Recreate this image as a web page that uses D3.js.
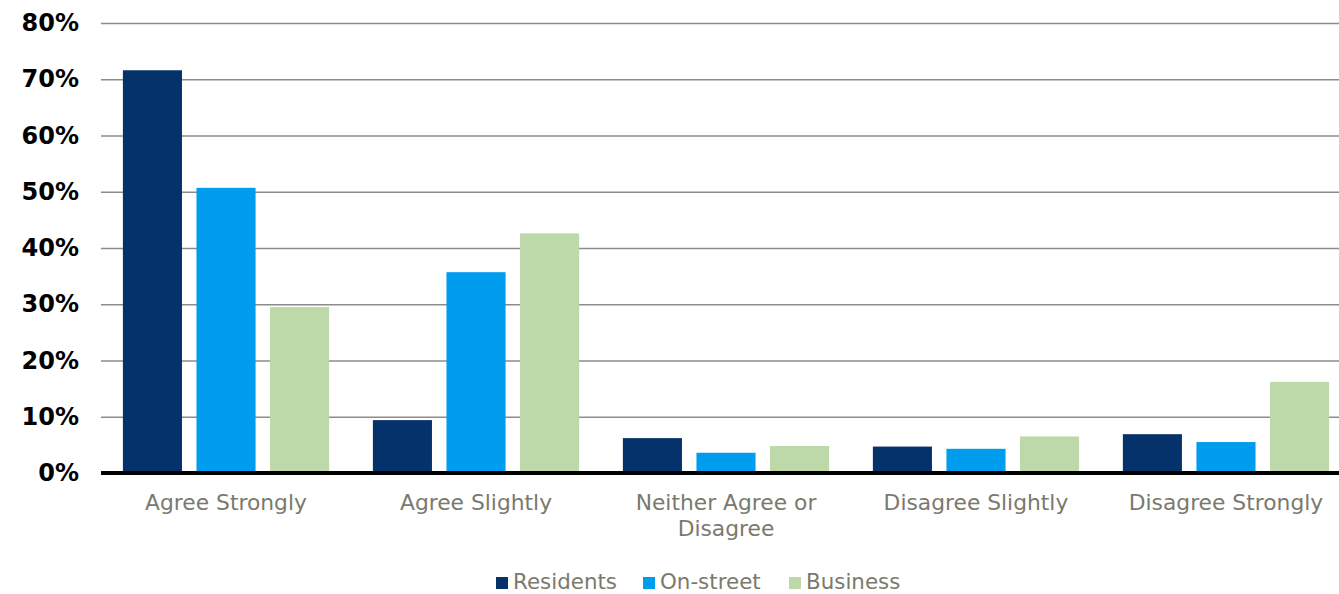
<!DOCTYPE html>
<html><head><meta charset="utf-8">
<script src="https://cdn.jsdelivr.net/npm/d3@7"></script>
<style>body{margin:0;background:#fff}svg{display:block}</style>
</head><body>
<svg id="c" width="1339" height="594"></svg>
<script>
const categories = [["Agree Strongly"],["Agree Slightly"],["Neither Agree or","Disagree"],["Disagree Slightly"],["Disagree Strongly"]];
const seriesNames = ["Residents","On-street","Business"];
const residents = [71.6, 9.4, 6.2, 4.7, 6.9];
const onStreet  = [50.7, 35.7, 3.6, 4.3, 5.5];
const business  = [29.5, 42.6, 4.8, 6.5, 16.2];
const yTicks = [0,10,20,30,40,50,60,70,80];
const colors = ["#06326c","#009ced","#bed9a9"];

(function(){
const series = [residents, onStreet, business];
const svg = d3.select("#c");
const mLeft = 101, mRight = 1351, mTop = 23, mBottom = 473;
const x0 = d3.scaleBand().domain(d3.range(categories.length)).range([mLeft, mRight]).paddingInner(0.175).paddingOuter(0.0876);
const x1 = d3.scaleBand().domain(d3.range(series.length)).range([0, x0.bandwidth()]).paddingInner(0.197).paddingOuter(0);
const y = d3.scaleLinear().domain([0,80]).range([mBottom, mTop]);

const yAxis = d3.axisLeft(y).tickValues(yTicks).tickSize(-(1339-mLeft)).tickFormat(d => d + "%").tickPadding(22);
const g = svg.append("g").attr("transform", `translate(${mLeft},0)`).call(yAxis);
g.select(".domain").remove();
g.selectAll(".tick line").attr("stroke", "#8c8c8c").attr("stroke-width", 1.3);
g.selectAll(".tick text").attr("font-family", "DejaVu Sans, Verdana, sans-serif").attr("font-weight", "bold").attr("font-size", 24).attr("fill", "#000");

const groups = svg.append("g").selectAll("g").data(categories).join("g")
  .attr("transform", (d,i) => `translate(${x0(i)},0)`);
groups.selectAll("rect").data((d,i) => series.map((s,j) => ({j, v: s[i]}))).join("rect")
  .attr("x", d => x1(d.j)).attr("width", x1.bandwidth())
  .attr("y", d => y(d.v)).attr("height", d => y(0) - y(d.v))
  .attr("fill", d => colors[d.j]);

svg.append("line").attr("x1", mLeft).attr("x2", 1339).attr("y1", y(0)).attr("y2", y(0)).attr("stroke", "#000").attr("stroke-width", 4);

const xl = svg.append("g").selectAll("text").data(categories).join("text")
  .attr("x", (d,i) => x0(i) + x0.bandwidth()/2).attr("y", 510)
  .attr("text-anchor", "middle").attr("font-family", "DejaVu Sans, Verdana, sans-serif").attr("font-size", 21.8).attr("fill", "#7a7a6c");
xl.selectAll("tspan").data(d => d).join("tspan")
  .attr("x", function(){ return this.parentNode.getAttribute("x"); })
  .attr("dy", (d,i) => i ? 26 : 0).text(d => d);

const legX = [496, 643, 789];
const leg = svg.append("g").selectAll("g").data(seriesNames).join("g")
  .attr("transform", (d,i) => `translate(${legX[i]},0)`);
leg.append("rect").attr("x", 0).attr("y", 577).attr("width", 12).attr("height", 12).attr("fill", (d,i) => colors[i]);
leg.append("text").attr("x", 17).attr("y", 589).text(d => d)
  .attr("font-family", "DejaVu Sans, Verdana, sans-serif").attr("font-size", 21.4).attr("fill", "#7a7a6c");
})();
</script>
</body></html>
